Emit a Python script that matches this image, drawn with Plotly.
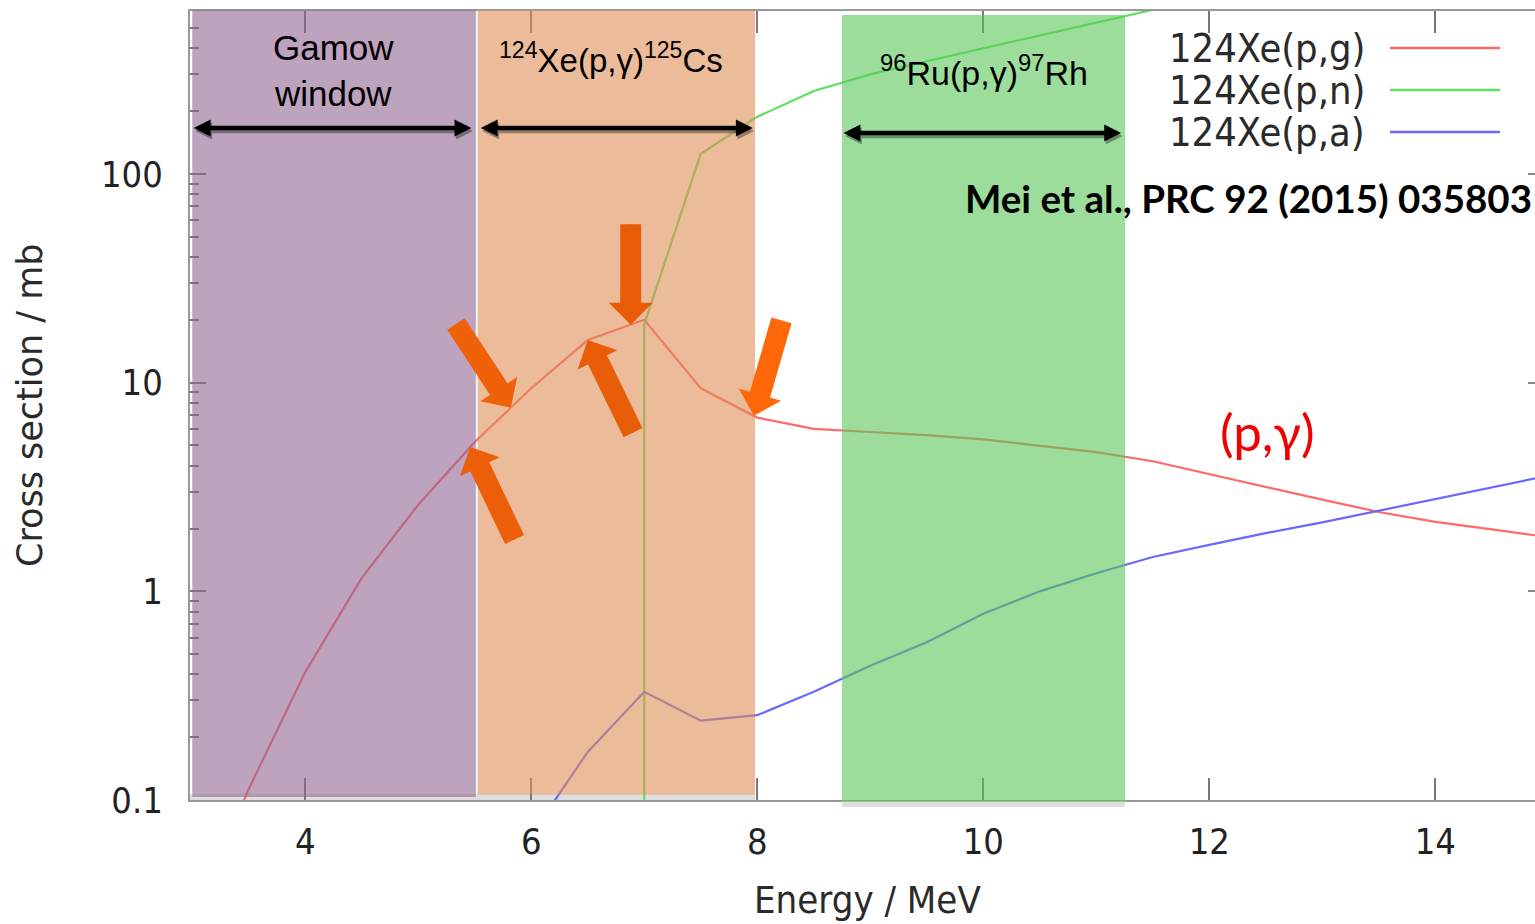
import numpy as np
import plotly.graph_objects as go

# ---------------- data ----------------
energy_pg = [3.0, 3.5, 4.0, 4.5, 5.0, 5.5, 6.0, 6.5, 7.0, 7.5, 8.0, 8.5, 9.0, 9.5,
             10.0, 10.5, 11.0, 11.5, 12.0, 12.5, 13.0, 13.5, 14.0, 14.5, 15.0]
xs_pg = [0.025, 0.113, 0.41, 1.16, 2.6, 5.2, 9.4, 16, 20, 9.4, 6.8, 6.0, 5.8, 5.6,
         5.35, 5.0, 4.65, 4.2, 3.65, 3.15, 2.75, 2.4, 2.15, 1.98, 1.82]

energy_pn = [7.0, 7.0, 7.5, 8.0, 8.5, 9.0, 9.5, 10.0, 10.5, 11.0, 11.5, 12.0]
xs_pn = [1e-4, 19, 125, 188, 250, 300, 347, 400, 459, 530, 611, 705]

energy_pa = [6.0, 6.5, 7.0, 7.5, 8.0, 8.5, 9.0, 9.5, 10.0, 10.5, 11.0, 11.5,
             12.0, 12.5, 13.0, 13.5, 14.0, 14.5, 15.0]
xs_pa = [0.068, 0.17, 0.33, 0.24, 0.255, 0.33, 0.44, 0.57, 0.78, 1.0, 1.22, 1.46,
         1.67, 1.9, 2.14, 2.43, 2.78, 3.15, 3.58]

series_names = ["124Xe(p,g)", "124Xe(p,n)", "124Xe(p,a)"]
x_ticks = [4, 6, 8, 10, 12, 14]
y_ticks = [0.1, 1, 10, 100]
y_ticktext = ["0.1", "1", "10", "100"]

window_labels = ["Gamow<br>window",
                 "<sup>124</sup>Xe(p,γ)<sup>125</sup>Cs",
                 "<sup>96</sup>Ru(p,γ)<sup>97</sup>Rh"]
window_ranges = [(3.0, 5.51), (5.525, 7.98), (8.75, 11.255)]
arrow_energies = [5.46, 5.82, 6.5, 6.88, 7.97]

# ---------------- layout geometry ----------------
W, H = 1535, 924
L, R, T, B = 190, 0, 11, 124
PW, PH = W - L - R, H - T - B
XR = [2.98, 2.98 + PW / 113.0]
YR = [-1.0, 2.781]


def px(xp):
    return (xp - L) / PW


def py(yp):
    return (H - B - yp) / PH


RED = "rgb(255,105,105)"
GREEN = "rgb(95,225,95)"
BLUE = "rgb(105,105,255)"
colors = [RED, GREEN, BLUE]

fig = go.Figure()
for xs, ys, c, n in [(energy_pg, xs_pg, RED, series_names[0]),
                     (energy_pn, xs_pn, GREEN, series_names[1]),
                     (energy_pa, xs_pa, BLUE, series_names[2])]:
    fig.add_trace(go.Scatter(x=xs, y=ys, mode="lines", name=n,
                             line=dict(color=c, width=2.2), showlegend=False))
# invisible trace that carries the right-hand tick axis
fig.add_trace(go.Scatter(x=energy_pg, y=xs_pg, mode="lines", yaxis="y2",
                         line=dict(width=0), opacity=0, showlegend=False,
                         hoverinfo="skip"))

shapes = []
# gray shadows at the bottom of the bands
shapes.append(dict(type="rect", xref="x", yref="paper", x0=window_ranges[0][0] - 0.02,
                   x1=window_ranges[1][1], y0=0.0, y1=py(794), layer="below",
                   line=dict(width=0), fillcolor="rgb(222,222,222)"))
shapes.append(dict(type="rect", xref="x", yref="paper", x0=window_ranges[2][0],
                   x1=window_ranges[2][1], y0=py(807), y1=py(801), layer="above",
                   line=dict(width=0), fillcolor="rgb(222,222,222)"))
band_fill = ["rgb(147,102,147)", "rgb(222,142,87)", "rgb(90,198,90)"]
band_y = [(py(797), py(10)), (py(794.5), py(10)), (py(802), py(15))]
for (x0, x1), fc, (y0, y1) in zip(window_ranges, band_fill, band_y):
    shapes.append(dict(type="rect", xref="x", yref="paper", x0=x0, x1=x1, y0=y0, y1=y1,
                       layer="above", line=dict(width=0), fillcolor=fc, opacity=0.6))

# legend sample lines
leg_y = [48, 90, 132]
for yy, c in zip(leg_y, colors):
    shapes.append(dict(type="line", xref="paper", yref="paper", x0=px(1390), x1=px(1500),
                       y0=py(yy), y1=py(yy), line=dict(color=c, width=2.5), layer="above"))

ann = []
COND = "DejaVu Sans Condensed, DejaVu Sans"
for yy, n in zip(leg_y, series_names):
    ann.append(dict(xref="paper", yref="paper", x=px(1367), y=py(yy), text=n,
                    showarrow=False, xanchor="right", yanchor="middle",
                    font=dict(family=COND, size=39.5, color="#2a2a2a")))

# window labels
lab_pos = [(333, 70), (611, 58), (984, 71)]
lab_size = [35, 33, 34]
for (xx, yy), t, s in zip(lab_pos, window_labels, lab_size):
    ann.append(dict(xref="paper", yref="paper", x=px(xx), y=py(yy), text=t,
                    showarrow=False, xanchor="center", yanchor="middle",
                    font=dict(family="Liberation Sans, Arial", size=s, color="black")))

# black double arrows (with shadow)
arr_y = [128, 128, 133]
arr_x = [(3.0, 5.47), (5.54, 7.96), (8.75, 11.22)]
for dx, dy, col in [(1.5, 3, "rgba(0,0,0,0.35)"), (0, 0, "black")]:
    for (xa, xb), yy in zip(arr_x, arr_y):
        ann.append(dict(xref="x", yref="paper", x=xb + dx / 113.0, y=py(yy + dy),
                        axref="x", ayref="pixel", ax=xa + dx / 113.0, ay=0, text="",
                        showarrow=True, arrowside="end+start", arrowhead=2,
                        startarrowhead=2, arrowsize=0.75, startarrowsize=0.75,
                        arrowwidth=4.5, arrowcolor=col, standoff=0, startstandoff=0))

# orange block arrows pointing at the (p,gamma) curve: thick shaft + big head
lpg = np.log10(xs_pg)
arrow_off = [(45, 94), (-56, -85), (46, 94), (0, -102), (28, -97)]
arrow_col = ["rgb(236,94,8)", "rgb(240,98,10)", "rgb(234,93,8)", "rgb(234,93,8)",
             "rgb(255,104,8)"]
for e, (axo, ayo), c in zip(arrow_energies, arrow_off, arrow_col):
    yl = float(np.interp(e, energy_pg, lpg))
    ann.append(dict(xref="x", yref="y", x=e, y=yl, ax=axo, ay=ayo, text="",
                    showarrow=True, arrowhead=0, arrowwidth=21,
                    arrowcolor=c, standoff=14))
    ann.append(dict(xref="x", yref="y", x=e, y=yl, ax=axo, ay=ayo, text="",
                    showarrow=True, arrowhead=1, arrowsize=4.9, arrowwidth=1.5,
                    arrowcolor=c, standoff=0))

ann.append(dict(xref="paper", yref="paper", x=px(1534), y=py(198),
                text="<b>Mei et al., PRC 92 (2015) 035803</b>", showarrow=False,
                xanchor="right", yanchor="middle",
                font=dict(family="Lato", size=38.5, color="black")))
ann.append(dict(xref="paper", yref="paper", x=px(1267), y=py(431), text="(p,γ)",
                showarrow=False, xanchor="center", yanchor="middle",
                font=dict(family="Lato", size=51, color="rgb(240,0,0)")))
ann.append(dict(xref="paper", yref="paper", x=px(867), y=py(900), text="Energy / MeV",
                showarrow=False, xanchor="center", yanchor="middle",
                font=dict(family=COND, size=38, color="#2a2a2a")))
ann.append(dict(xref="paper", yref="paper", x=px(30), y=py(406),
                text="Cross section / mb", showarrow=False, textangle=-90,
                xanchor="center", yanchor="middle",
                font=dict(family="DejaVu Sans", size=35, color="#2a2a2a")))

minor_vals = [m * 10.0 ** d for d in range(-1, 3) for m in range(2, 10)]

fig.update_layout(
    width=W, height=H, margin=dict(l=L, r=R, t=T, b=B, pad=0),
    paper_bgcolor="white", plot_bgcolor="white",
    shapes=shapes, annotations=ann, showlegend=False,
    xaxis=dict(range=XR, tickmode="array", tickvals=x_ticks, ticks="inside",
               ticklen=22, tickwidth=2, tickcolor="#777", showline=True,
               linecolor="#999", linewidth=2, mirror="ticks", showgrid=False,
               zeroline=False, ticklabelstandoff=9,
               tickfont=dict(family=COND, size=36, color="#222")),
    yaxis=dict(type="log", range=YR, tickmode="array", tickvals=y_ticks,
               ticktext=y_ticktext, ticks="inside", ticklen=16, tickwidth=2,
               tickcolor="#777", showline=True, linecolor="#999", linewidth=2,
               mirror=False, showgrid=False, zeroline=False, ticklabelstandoff=18,
               minor=dict(tickmode="array", tickvals=minor_vals, ticks="inside",
                          ticklen=9, tickwidth=2, tickcolor="#777", showgrid=False),
               tickfont=dict(family=COND, size=36, color="#222")),
    yaxis2=dict(type="log", range=YR, overlaying="y", side="right", tickmode="array",
                tickvals=y_ticks, ticks="inside", ticklen=7, tickwidth=2,
                tickcolor="#888", showline=False, showgrid=False, zeroline=False,
                showticklabels=False),
)

fig.write_html("out.html")
